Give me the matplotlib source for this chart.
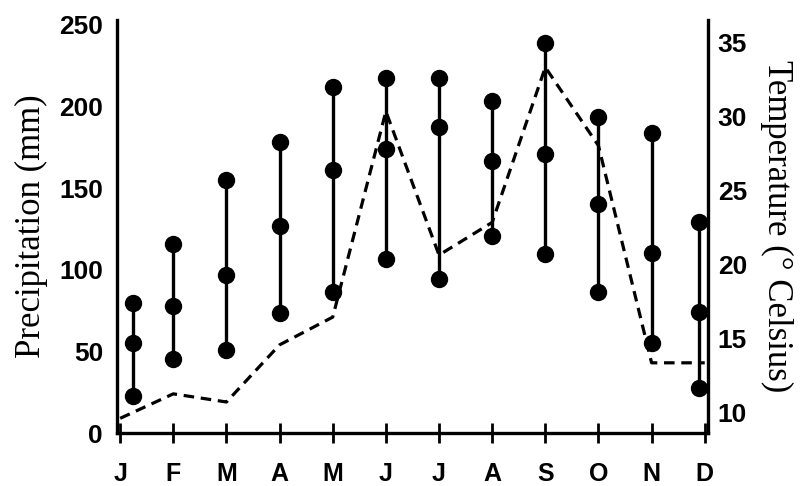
import matplotlib
matplotlib.use("Agg")
import matplotlib.pyplot as plt
import numpy as np

months = ["J", "F", "M", "A", "M", "J", "J", "A", "S", "O", "N", "D"]
# precipitation (mm), dashed line, left axis
precip = [9, 24, 19, 54, 71, 197, 109, 129, 224, 176, 43, 43]
# temperature (deg C) ranges, right axis
t_max = [17.4, 21.4, 25.7, 28.3, 32.0, 32.6, 32.6, 31.1, 35.0, 30.0, 28.9, 22.9]
t_mean = [14.7, 17.2, 19.3, 22.6, 26.4, 27.8, 29.3, 27.0, 27.5, 24.1, 20.8, 16.8]
t_min = [11.1, 13.6, 14.2, 16.7, 18.1, 20.4, 19.0, 21.9, 20.7, 18.1, 14.7, 11.6]

num_font = ["Liberation Sans Narrow", "DejaVu Sans Condensed", "Liberation Sans"]

fig = plt.figure(figsize=(8.04, 4.86), dpi=100)
ax = fig.add_axes([0.1455, 0.109, 0.735, 0.85])
ax2 = ax.twinx()

x = np.arange(len(months))
ax.plot(x, precip, color="black", lw=2.3, ls=(0, (3.3, 2.1)), zorder=3)

# range markers; first and last sit just inside the axes
xr = x.astype(float)
xr[0] += 0.25
xr[-1] -= 0.1
ax2.vlines(xr, t_min, t_max, color="black", lw=2.4)
for ys in (t_max, t_mean, t_min):
    ax2.plot(xr, ys, "o", color="black", ms=11.5, clip_on=False)

ax.set_xlim(-0.06, 11.06)
ax.set_ylim(0, 253)
ax2.set_ylim(8.58, 36.56)

ax.set_xticks(x)
ax.set_xticklabels(months, fontsize=18, fontweight="bold",
                   family=["Liberation Sans", "DejaVu Sans"])
ax.tick_params(axis="x", direction="inout", length=14, width=2, pad=14)
ax.set_yticks([0, 50, 100, 150, 200, 250])
ax.tick_params(axis="y", length=0, pad=10)
for lab in ax.get_yticklabels():
    lab.set_fontsize(19)
    lab.set_fontweight("bold")
    lab.set_family(num_font)
ax2.set_yticks([10, 15, 20, 25, 30, 35])
ax2.tick_params(axis="y", length=0, pad=7)
for lab in ax2.get_yticklabels():
    lab.set_fontsize(19)
    lab.set_fontweight("bold")
    lab.set_family(num_font)

for a in (ax, ax2):
    a.spines["top"].set_visible(False)
    for s in ("left", "right", "bottom"):
        a.spines[s].set_linewidth(2.4)
ax.spines["right"].set_visible(False)
ax2.spines["left"].set_visible(False)
ax2.spines["bottom"].set_visible(False)

ax.set_ylabel("Precipitation (mm)", fontsize=25, family="Liberation Serif",
              labelpad=8)
ax2.set_ylabel("Temperature (\u00b0 Celsius)", fontsize=25,
               family="Liberation Serif", rotation=-90, labelpad=33)

fig.savefig("out.png", dpi=100)
